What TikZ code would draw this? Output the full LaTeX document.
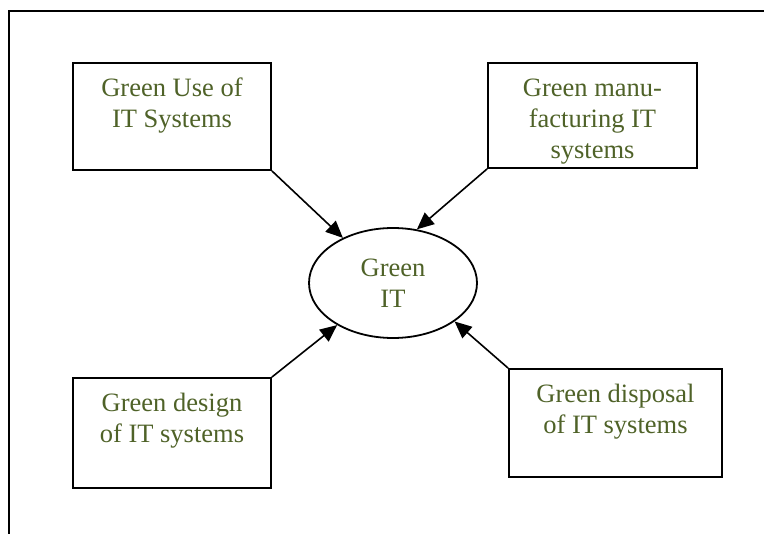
\documentclass[tikz,border=0pt]{standalone}
\usepackage{fontspec}
\setmainfont{Liberation Serif}
\usetikzlibrary{arrows.meta,shapes.geometric}
\definecolor{olivetext}{HTML}{4F6228}
\newcommand{\boxtext}[3]{\parbox[c][#2pt][t]{#1pt}{\centering\fontsize{26.5pt}{31pt}\selectfont\rule{0pt}{34pt}#3}}
\tikzset{
  itbox/.style={draw=black, line width=1.8pt, rectangle, inner sep=0pt, text=olivetext},
  itell/.style={draw=black, line width=1.8pt, ellipse, inner sep=0pt, minimum width=168pt, minimum height=110pt, text=olivetext, align=center, font=\fontsize{26.5pt}{31pt}\selectfont},
  feed/.style={line width=1.6pt, -{Triangle[length=17pt,width=15pt]}}
}
\begin{document}
\begin{tikzpicture}[x=1pt,y=-1pt]
\useasboundingbox (0,0) rectangle (764,534);
\draw[line width=2.4pt] (9,534) -- (9,11) -- (764,11);
\node[itbox] (use) at (172,116.5) {\boxtext{198}{107}{Green Use of\\IT Systems}};
\node[itbox] (manu) at (592.5,115.5) {\boxtext{209}{105}{Green manu-\\facturing IT\\systems}};
\node[itbox] (design) at (172,433) {\boxtext{198}{110}{Green design\\of IT systems}};
\node[itbox] (disp) at (615.5,423) {\boxtext{213}{108}{Green disposal\\of IT systems}};
\node[itell] (git) at (393,283) {Green\\IT};
\draw[feed] (use.south east) -- (git.138);
\draw[feed] (manu.south west) -- (git.66);
\draw[feed] (design.north east) -- (git.217);
\draw[feed] (disp.north west) -- (git.328);
\end{tikzpicture}
\end{document}
